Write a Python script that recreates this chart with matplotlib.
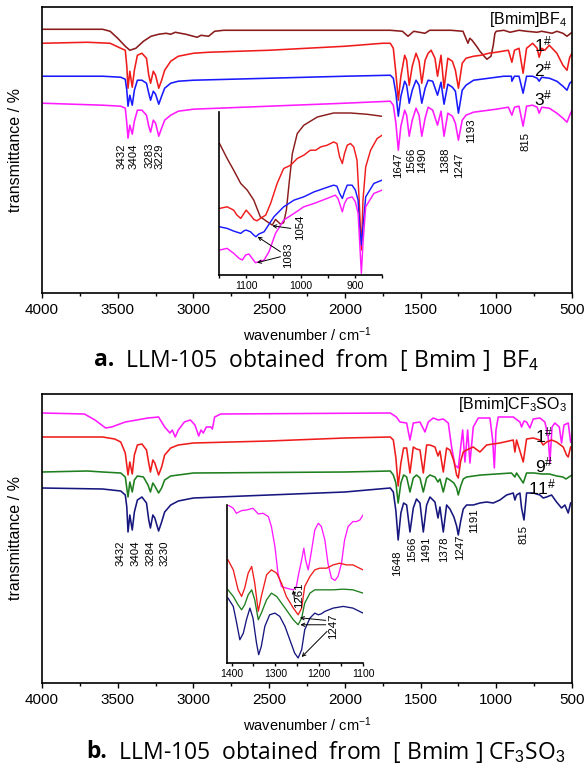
import numpy as np
import matplotlib
matplotlib.use('Agg')
import matplotlib.pyplot as plt
from matplotlib.ticker import MultipleLocator

plt.rcParams['font.family'] = ['Liberation Sans', 'DejaVu Sans']
plt.rcParams['mathtext.fontset'] = 'custom'
plt.rcParams['mathtext.rm'] = 'Liberation Sans'
plt.rcParams['mathtext.it'] = 'Liberation Sans:italic'
plt.rcParams['mathtext.bf'] = 'Liberation Sans:bold'

# ---------------- DATA: panel a ([Bmim]BF4) ----------------
a_il = [(4000,264),(3600,264),(3550,262),(3500,255),(3450,247),(3420,243),(3380,245),(3330,252),(3280,257),
        (3230,259),(3180,260),(3150,259),(3120,261),(3050,259),(2975,256),(2950,258),(2900,257),(2860,262),
        (2800,263),(1700,263),(1620,262),(1583,257),(1545,262),(1471,260),(1440,263),(1300,263),(1220,262),
        (1187,250),(1175,255),(1160,253),(1130,247),(1108,242),(1080,237),(1062,234),(1035,237),(1020,248),
        (1009,260),(1000,262),(950,263),(909,261),(850,263),(800,262),(731,261),(700,262),(632,260),(600,262),
        (560,260),(533,257),(500,261)]
a_s1 = [(4000,250),(3700,251),(3550,250),(3480,245),(3450,243),(3440,227),(3432,205),(3420,222),(3404,206),
        (3390,223),(3370,238),(3340,240),(3310,235),(3295,218),(3283,210),(3265,222),(3250,218),(3229,205),
        (3210,213),(3190,223),(3150,232),(3100,237),(3000,240),(2900,241),(2500,243),(2000,247),(1750,250),
        (1700,250),(1680,245),(1663,220),(1647,193),(1630,217),(1605,238),(1592,233),(1575,208),(1555,227),
        (1530,240),(1510,232),(1492,210),(1470,233),(1450,240),(1430,243),(1405,235),(1388,217),(1365,238),
        (1345,205),(1320,235),(1290,232),(1270,223),(1250,205),(1225,230),(1200,235),(1150,237),(1100,238),
        (1050,240),(1000,241),(920,243),(897,231),(880,243),(850,245),(823,220),(800,245),(760,250),(730,245),
        (717,236),(700,245),(680,243),(650,248),(600,240),(560,228),(533,223),(515,236),(500,240)]
a_s2 = [(4000,217),(3600,217),(3480,216),(3450,214),(3440,203),(3432,187),(3420,198),(3404,188),(3390,203),
        (3370,213),(3340,213),(3310,210),(3295,200),(3283,193),(3265,202),(3250,199),(3229,189),(3210,197),
        (3190,205),(3150,210),(3100,212),(3000,213),(2500,215),(2000,217),(1700,218),(1680,215),(1663,200),
        (1647,177),(1630,197),(1605,212),(1592,208),(1575,190),(1555,203),(1530,213),(1510,208),(1492,190),
        (1470,205),(1450,213),(1420,212),(1388,198),(1365,211),(1345,189),(1320,209),(1290,206),(1270,202),
        (1250,180),(1225,203),(1200,208),(1150,213),(1100,214),(1050,215),(1000,216),(950,217),(900,217),
        (897,212),(880,217),(850,217),(823,200),(800,217),(760,217),(730,215),(717,212),(700,216),(650,215),
        (600,212),(560,207),(533,203),(515,210),(500,212)]
a_s3 = [(4000,190),(3600,188),(3480,187),(3450,185),(3440,170),(3432,155),(3420,168),(3404,159),(3390,172),
        (3370,183),(3340,183),(3310,178),(3295,167),(3283,161),(3265,173),(3250,170),(3229,157),(3210,165),
        (3190,173),(3150,178),(3100,182),(3000,184),(2500,187),(2000,190),(1700,192),(1680,188),(1663,170),
        (1647,143),(1630,167),(1605,183),(1592,178),(1575,157),(1555,173),(1530,185),(1510,178),(1492,157),
        (1470,175),(1450,186),(1420,183),(1388,168),(1365,182),(1345,157),(1320,180),(1290,177),(1270,170),
        (1250,153),(1225,173),(1200,178),(1150,181),(1100,182),(1000,184),(920,186),(897,178),(880,186),
        (850,187),(823,167),(800,187),(760,188),(730,186),(717,180),(700,186),(650,185),(600,180),(560,175),
        (533,171),(515,178),(500,183)]
a_names = ['1$^{\\#}$', '2$^{\\#}$', '3$^{\\#}$']
a_peaks = ['3432', '3404', '3283', '3229', '1647', '1566', '1490', '1388', '1247', '1193', '815']

# inset a (1150-850 cm-1)
ia_il = [(1149,131.7),(1135,116.7),(1123,105),(1110,91.7),(1098,85),(1086,75),(1074,58.3),(1061,53.3),
         (1052,50),(1046,55.7),(1037,51),(1031,52.3),(1026,65),(1021,91.7),(1015,121.7),(1006,141.7),
         (994,150),(969,158.3),(939,162.3),(908,162.3),(877,161),(850,159)]
ia_s1 = [(1149,66.7),(1135,68.3),(1123,65),(1117,60),(1110,56.7),(1104,61.7),(1100,65),(1092,60),(1086,55.7),
         (1080,54.3),(1074,56.7),(1064,60),(1055,71.7),(1043,91.7),(1031,106.7),(1018,110),(1006,116.7),
         (994,120),(982,125),(972,125),(963,128.3),(951,130),(939,133.3),(933,131.7),(928,118.3),(923,111.7),
         (919,121.7),(914,130),(908,131.7),(902,128.3),(896,115),(892,75),(888,25),(885,75),(880,108.3),
         (871,125),(859,136.7),(850,140)]
ia_s2 = [(1149,48.3),(1135,46.7),(1123,44),(1110,41.7),(1104,44.3),(1100,45),(1092,43.3),(1086,40),(1082,38.3),
         (1077,41),(1067,43.3),(1061,48.3),(1049,58.3),(1031,68.3),(1012,75),(994,78.3),(975,83.3),(957,86.7),
         (939,90),(933,89),(928,81.7),(923,76.7),(919,83.3),(914,90),(905,90),(899,85),(894,75),(891,48.3),
         (888,30),(885,48.3),(880,78.3),(865,91.7),(850,95)]
ia_s3 = [(1149,25),(1135,26.7),(1123,21.7),(1113,16.7),(1107,15),(1101,20),(1095,21),(1089,16.7),(1083,12.3),
         (1077,13.3),(1067,15),(1058,23.3),(1046,41.7),(1031,55),(1012,61.7),(994,68.3),(975,71.7),(951,76.7),
         (936,80),(931,76.7),(926,68.3),(923,63.3),(919,71.7),(914,76.7),(905,78.3),(899,73.3),(894,61.7),
         (891,31.7),(888,1.7),(885,31.7),(880,68.3),(865,81.7),(850,85)]

# ---------------- DATA: panel b ([Bmim]CF3SO3) ----------------
b_il = [(4000,270),(3720,269),(3650,263),(3580,255),(3540,256),(3450,261),(3300,265),(3230,266),(3190,256),
        (3155,250),(3140,253),(3120,246),(3100,253),(3060,261),(3020,263),(2990,258),(2965,247),(2950,253),
        (2935,250),(2915,256),(2885,256),(2875,254),(2860,266),(2820,269),(1700,270),(1660,266),(1636,261),
        (1592,260),(1570,243),(1548,260),(1504,261),(1471,251),(1449,261),(1416,265),(1383,263),(1350,264),
        (1317,260),(1295,236),(1273,218),(1251,215),(1235,236),(1222,253),(1207,221),(1189,253),(1174,220),
        (1152,256),(1119,265),(1042,265),(1024,243),(1013,215),(1002,253),(987,266),(888,266),(844,261),
        (833,256),(817,262),(800,261),(778,255),(756,264),(712,265),(679,261),(657,246),(646,220),(632,256),
        (613,260),(584,256),(569,240),(553,258),(525,260),(509,241)]
b_s1 = [(4000,246),(3600,246),(3520,244),(3480,241),(3450,230),(3432,208),(3420,221),(3404,209),(3390,228),
        (3370,238),(3340,239),(3310,233),(3295,220),(3284,211),(3268,223),(3255,220),(3230,208),(3210,216),
        (3190,228),(3150,235),(3100,238),(3000,240),(2500,242),(2000,245),(1700,246),(1680,243),(1663,225),
        (1648,197),(1630,220),(1612,235),(1592,235),(1570,210),(1548,236),(1527,234),(1504,233),(1482,210),
        (1460,238),(1438,238),(1405,236),(1385,227),(1372,232),(1350,211),(1328,235),(1306,233),(1280,222),
        (1262,208),(1251,205),(1235,222),(1218,231),(1196,233),(1152,236),(1108,231),(1064,238),(976,240),
        (888,243),(877,231),(866,243),(822,221),(800,244),(756,245),(712,243),(690,238),(668,241),(635,243),
        (602,241),(558,236),(536,228),(525,226),(509,236)]
b_s9 = [(4000,211),(3700,212),(3600,211),(3480,210),(3450,206),(3432,186),(3420,201),(3404,191),(3390,203),
        (3370,207),(3330,206),(3300,198),(3284,191),(3268,200),(3255,197),(3230,190),(3210,195),(3190,203),
        (3150,207),(3000,210),(2000,211),(1700,212),(1680,208),(1663,200),(1648,180),(1630,200),(1612,208),
        (1592,206),(1570,191),(1548,205),(1527,208),(1504,205),(1482,191),(1460,205),(1438,208),(1405,206),
        (1385,201),(1372,204),(1350,191),(1328,205),(1306,203),(1280,200),(1262,195),(1251,188),(1235,197),
        (1218,204),(1196,206),(1150,207),(1100,208),(1000,209),(900,210),(877,206),(866,210),(822,200),
        (800,210),(750,210),(700,209),(650,209),(600,207),(560,206),(540,204),(520,206),(500,208)]
b_s11 = [(4000,195),(3600,194),(3480,192),(3450,188),(3440,176),(3432,151),(3420,168),(3404,153),(3390,171),
         (3370,183),(3340,186),(3310,180),(3295,163),(3284,155),(3268,168),(3255,165),(3230,152),(3210,161),
         (3190,171),(3150,178),(3100,182),(3000,185),(2500,188),(2000,191),(1700,195),(1680,191),(1663,172),
         (1648,143),(1630,170),(1612,180),(1592,178),(1570,151),(1548,175),(1527,184),(1504,180),(1482,151),
         (1460,178),(1438,186),(1405,181),(1385,165),(1372,176),(1350,151),(1328,178),(1306,174),(1280,166),
         (1262,157),(1251,148),(1235,162),(1218,174),(1196,178),(1152,178),(1108,180),(1064,181),(1020,180),
         (976,183),(932,188),(888,190),(877,183),(866,188),(844,190),(833,175),(817,163),(800,190),(756,190),
         (712,188),(690,185),(668,186),(635,188),(602,181),(569,175),(547,178),(525,170),(509,180)]
b_names = ['1$^{\\#}$', '9$^{\\#}$', '11$^{\\#}$']
b_peaks = ['3432', '3404', '3284', '3230', '1648', '1566', '1491', '1378', '1247', '1191', '815']

# inset b (1411-1100 cm-1)
ib_il = [(1408,158.3),(1396,155),(1389,150),(1377,152.7),(1366,153.3),(1351,155),(1339,149.3),(1328,150),
         (1316,146.7),(1309,136.7),(1301,116.7),(1294,90),(1286,76.7),(1275,75),(1259,73.3),(1252,76.7),
         (1248,86.7),(1240,103.3),(1235,115),(1231,103.3),(1225,93.3),(1219,108.3),(1210,133.3),(1202,140),
         (1195,136.7),(1187,123.3),(1180,100),(1172,85),(1164,82.7),(1157,86.7),(1149,100),(1142,123.3),
         (1134,136.7),(1123,141.7),(1115,141.7),(1107,143.3),(1100,148.3)]
ib_s1 = [(1408,103.3),(1396,93.3),(1385,73.3),(1377,66.7),(1370,75),(1362,90),(1354,96.7),(1347,80),(1339,51.7),
         (1332,66.7),(1320,88.3),(1309,93.3),(1297,90),(1286,80),(1275,66.7),(1259,55),(1248,48.3),(1240,55),
         (1233,76.7),(1221,86.7),(1210,93.3),(1199,95),(1183,95),(1168,98.3),(1153,100),(1138,98.3),(1123,98.3),
         (1100,93.3)]
ib_s9 = [(1408,73.3),(1396,66.7),(1385,58.3),(1377,53.3),(1370,58.3),(1362,68.3),(1354,73.3),(1347,63.3),
         (1339,43.3),(1332,50),(1320,63.3),(1309,70),(1297,66.7),(1286,60),(1275,53.3),(1259,43.3),(1248,38.3),
         (1240,45),(1233,60),(1221,70),(1210,73.3),(1191,73.3),(1168,73.3),(1145,74),(1123,73.3),(1100,70)]
ib_s11 = [(1408,65),(1396,56.7),(1389,41.7),(1381,23.3),(1373,30),(1366,43.3),(1358,55),(1351,45),(1343,20),
          (1338,8.3),(1332,16.7),(1324,36.7),(1313,48.3),(1301,50),(1290,46.7),(1278,36.7),(1267,23.3),
          (1256,10),(1248,5),(1240,13.3),(1233,33.3),(1221,45),(1210,50),(1202,48.3),(1195,49.3),(1187,51.7),
          (1168,55),(1145,56.7),(1123,55),(1100,50)]

# ---------------- STYLE / LAYOUT ----------------
C_BROWN, C_RED, C_BLUE, C_MAG = '#8a1c1c', '#f01c1c', '#1a1aff', '#ff1aff'
C_GREEN, C_NAVY = '#1e7f1e', '#16167f'
LW = 1.15

fig = plt.figure(figsize=(5.84, 7.71), dpi=100)


def px_rect(l, t, r, b):
    W, H = 584.0, 771.0
    return [l / W, 1 - b / H, (r - l) / W, (b - t) / H]


def draw(ax, series, colors, lw=LW):
    for s, c in zip(series, colors):
        arr = np.array(s, dtype=float)
        ax.plot(arr[:, 0], arr[:, 1], color=c, lw=lw, solid_joinstyle='round')


def main_axes(rect, ylim):
    ax = fig.add_axes(rect)
    ax.set_xlim(4000, 500)
    ax.set_ylim(*ylim)
    ax.xaxis.set_major_locator(MultipleLocator(500))
    ax.xaxis.set_minor_locator(MultipleLocator(250))
    ax.set_yticks([])
    ax.tick_params(axis='x', which='major', direction='out', length=3.5, width=1.0,
                   labelsize=11, pad=3.5)
    ax.tick_params(axis='x', which='minor', direction='out', length=2.2, width=1.0)
    for s in ax.spines.values():
        s.set_linewidth(1.2)
    ax.set_xlabel('wavenumber / cm$^{-1}$', fontsize=10.5)
    ax.xaxis.set_label_coords(0.5, -0.112)
    ax.set_ylabel('transmittance / %', fontsize=11.5)
    ax.yaxis.set_label_coords(-0.036, 0.5)
    return ax


def inset_axes(rect, xlim, ylim, labels):
    ax = fig.add_axes(rect)
    ax.patch.set_visible(False)
    ax.set_xlim(*xlim)
    ax.set_ylim(*ylim)
    ax.set_yticks([])
    ax.set_xticks(labels)
    ax.xaxis.set_minor_locator(MultipleLocator(50))
    ax.tick_params(axis='x', which='major', direction='out', length=2.5, width=1.0, labelsize=7.5, pad=2)
    ax.tick_params(axis='x', which='minor', direction='out', length=2.5, width=1.0)
    ax.spines['top'].set_visible(False)
    ax.spines['right'].set_visible(False)
    for s in ('left', 'bottom'):
        ax.spines[s].set_linewidth(1.2)
    return ax


def peak_labels(ax, texts, xs, tops):
    for t, x, y in zip(texts, xs, tops):
        ax.text(x, y, t, rotation=90, ha='center', va='top', fontsize=8.2)


# ---------------- panel a ----------------
axa = main_axes(px_rect(42, 7, 572, 293), (0, 286.3))
draw(axa, [a_il, a_s1, a_s2, a_s3], [C_BROWN, C_RED, C_BLUE, C_MAG])
axa.text(533, 274, '[Bmim]BF$_4$', ha='right', va='center', fontsize=11.5)
for name, x, y in zip(a_names, [690, 688, 690], [249, 224, 195]):
    axa.text(x, y, name, ha='center', va='center', fontsize=12.5)
peak_labels(axa, a_peaks,
            [3478, 3396, 3293, 3221, 1649, 1563, 1490, 1339, 1246, 1167, 810],
            [150, 150, 151, 150, 141, 146, 146, 146, 141, 175, 161])

ia = inset_axes(px_rect(219, 112, 382, 275), (1150, 850), (0, 163.3), [1100, 1000, 900])
draw(ia, [ia_il, ia_s1, ia_s2, ia_s3], [C_BROWN, C_RED, C_BLUE, C_MAG], lw=1.05)
ia.text(1000, 48, '1054', rotation=90, ha='center', va='center', fontsize=8.2)
ia.annotate('', xy=(1052, 49.3), xytext=(1018, 46.7),
            arrowprops=dict(arrowstyle='->', lw=0.7, color='black', mutation_scale=6,
                            shrinkA=0, shrinkB=0))
ia.text(1022, 20, '1083', rotation=90, ha='center', va='center', fontsize=8.2)
for tx, ty, hx, hy in [(1037, 23.3, 1079, 38.3), (1037, 18.3, 1080, 12.3)]:
    ia.annotate('', xy=(hx, hy), xytext=(tx, ty),
                arrowprops=dict(arrowstyle='->', lw=0.7, color='black', mutation_scale=6,
                                shrinkA=0, shrinkB=0))

# ---------------- panel b ----------------
axb = main_axes(px_rect(42, 394, 572, 683), (0, 289))
draw(axb, [b_il, b_s1, b_s9, b_s11], [C_MAG, C_RED, C_GREEN, C_NAVY])
axb.text(530, 278, '[Bmim]CF$_3$SO$_3$', ha='right', va='center', fontsize=11.5)
for name, x, y in zip(b_names, [685, 685, 698], [248, 218, 196]):
    axb.text(x, y, name, ha='center', va='center', fontsize=12.5)
peak_labels(axb, b_peaks,
            [3480, 3381, 3283, 3188, 1655, 1557, 1464, 1345, 1240, 1147, 817],
            [143, 143, 143, 143, 133, 146, 146, 146, 148, 175, 158])

ib = inset_axes(px_rect(226.7, 505, 363, 663), (1411, 1100), (0, 158.3), [1400, 1300, 1200, 1100])
draw(ib, [ib_il, ib_s1, ib_s9, ib_s11], [C_MAG, C_RED, C_GREEN, C_NAVY], lw=0.95)
ib.text(1246, 68, '1261', rotation=90, ha='center', va='center', fontsize=8.2)
ib.annotate('', xy=(1259, 73), xytext=(1256, 62),
            arrowprops=dict(arrowstyle='->', lw=0.7, color='black', mutation_scale=5,
                            shrinkA=0, shrinkB=0))
ib.text(1168, 37, '1247', rotation=90, ha='center', va='center', fontsize=8.2)
for tx, ty, hx, hy in [(1185, 42.7, 1244, 45.3), (1185, 38.3, 1243, 38.3), (1182, 31.7, 1240, 6)]:
    ib.annotate('', xy=(hx, hy), xytext=(tx, ty),
                arrowprops=dict(arrowstyle='->', lw=0.7, color='black', mutation_scale=6,
                                shrinkA=0, shrinkB=0))

# ---------------- captions ----------------
CAP = dict(fontsize=16.5, family=['Open Sans', 'DejaVu Sans'], va='center')
ta = axa.text(94 / 584, 1 - 360 / 771, 'a.', transform=fig.transFigure, weight='bold', **CAP)
axa.annotate('  LLM-105  obtained  from  [ Bmim ]  BF$_4$', xy=(1, 0.5), xycoords=ta,
             ha='left', annotation_clip=False, **CAP)
tb = axb.text(86 / 584, 1 - 752 / 771, 'b.', transform=fig.transFigure, weight='bold', **CAP)
axb.annotate('  LLM-105  obtained  from  [ Bmim ] CF$_3$SO$_3$', xy=(1, 0.5), xycoords=tb,
             ha='left', annotation_clip=False, **CAP)

fig.savefig('out.png', dpi=100)
